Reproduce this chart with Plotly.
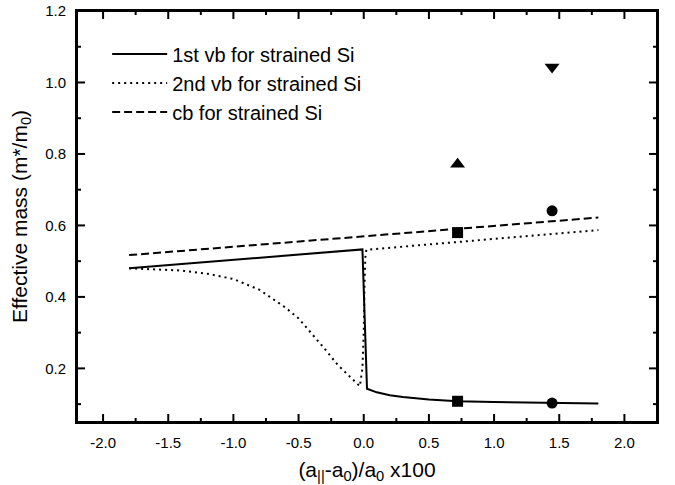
import plotly.graph_objects as go

# 1st valence band (solid)
vb1_x = [-1.8, -1.5, -1.0, -0.5, -0.01, 0.025, 0.1, 0.2, 0.3, 0.5, 0.72, 1.0, 1.45, 1.8]
vb1_y = [0.480, 0.489, 0.504, 0.518, 0.533, 0.143, 0.133, 0.125, 0.120, 0.113, 0.108, 0.106, 0.104, 0.102]

# 2nd valence band (dotted)
vb2_x = [-1.8, -1.6, -1.4, -1.2, -1.0, -0.8, -0.6, -0.5, -0.4, -0.3, -0.2, -0.1, -0.03,
         -0.01, 0.0, 0.005, 0.012, 0.02, 0.5, 1.0, 1.8]
vb2_y = [0.480, 0.478, 0.474, 0.465, 0.450, 0.420, 0.370, 0.340, 0.298, 0.255, 0.210, 0.175, 0.150,
         0.200, 0.300, 0.420, 0.510, 0.532, 0.547, 0.562, 0.587]

# conduction band (dashed)
cb_x = [-1.8, 0.0, 1.8]
cb_y = [0.517, 0.569, 0.622]

# symbols
sq_x = [0.72, 0.72]
sq_y = [0.580, 0.108]
tu_x = [0.72]
tu_y = [0.771]
td_x = [1.445]
td_y = [1.043]
ci_x = [1.445, 1.445]
ci_y = [0.641, 0.103]

# axis ranges and tick positions
x_range = [-2.2, 2.25]
y_range = [0.05, 1.2]
x_major = [-2.0, -1.5, -1.0, -0.5, 0.0, 0.5, 1.0, 1.5, 2.0]
x_minor = [-1.75, -1.25, -0.75, -0.25, 0.25, 0.75, 1.25, 1.75]
y_major = [0.2, 0.4, 0.6, 0.8, 1.0, 1.2]
y_minor = [0.1, 0.3, 0.5, 0.7, 0.9, 1.1]

FONT = "Liberation Sans, Arial, sans-serif"
W, H = 675, 485
ML, MR, MT, MB = 77, 18, 11, 63

fig = go.Figure()
fig.add_trace(go.Scatter(x=vb1_x, y=vb1_y, mode="lines", name="1st vb for strained Si",
                         line=dict(color="black", width=2, dash="solid")))
fig.add_trace(go.Scatter(x=vb2_x, y=vb2_y, mode="lines", name="2nd vb for strained Si",
                         line=dict(color="black", width=2, dash="2px,4px")))
fig.add_trace(go.Scatter(x=cb_x, y=cb_y, mode="lines", name="cb for strained Si",
                         line=dict(color="black", width=2, dash="8px,4px")))
fig.add_trace(go.Scatter(x=sq_x, y=sq_y, mode="markers", showlegend=False,
                         marker=dict(symbol="square", size=11, color="black")))
fig.add_trace(go.Scatter(x=tu_x, y=tu_y, mode="markers", showlegend=False,
                         marker=dict(symbol="triangle-up", size=13, color="black")))
fig.add_trace(go.Scatter(x=td_x, y=td_y, mode="markers", showlegend=False,
                         marker=dict(symbol="triangle-down", size=13, color="black")))
fig.add_trace(go.Scatter(x=ci_x, y=ci_y, mode="markers", showlegend=False,
                         marker=dict(symbol="circle", size=11, color="black")))

axis_common = dict(
    showgrid=False, zeroline=False, showline=True, linecolor="black", linewidth=2,
    mirror=True, ticks="", ticklabelstandoff=6,
    tickfont=dict(family=FONT, size=15, color="black"),
    automargin=False,
)

fig.update_xaxes(range=x_range, tickmode="array", tickvals=x_major,
                 ticktext=[f"{v:.1f}" for v in x_major],
                 title=dict(text="(a<sub>||</sub>-a<sub>0</sub>)/a<sub>0</sub> x100",
                            font=dict(family=FONT, size=21, color="black"), standoff=12),
                 **axis_common)
fig.update_yaxes(range=y_range, tickmode="array", tickvals=y_major,
                 ticktext=[f"{v:.1f}" for v in y_major],
                 title=dict(text="Effective mass (m*/m<sub>0</sub>)",
                            font=dict(family=FONT, size=21, color="black"), standoff=12),
                 **axis_common)

# plot frame
fig.add_shape(type="rect", xref="paper", yref="paper", x0=0, y0=0, x1=1, y1=1,
              line=dict(color="black", width=2), layer="above")

# inward tick marks as line shapes (length given in pixels, converted to axis units)
px_x = (x_range[1] - x_range[0]) / (W - ML - MR)
px_y = (y_range[1] - y_range[0]) / (H - MT - MB)
tick_line = dict(color="black", width=2)
for vals, ln in ((x_major, 8), (x_minor, 4)):
    for v in vals:
        fig.add_shape(type="line", xref="x", yref="y", x0=v, x1=v,
                      y0=y_range[0], y1=y_range[0] + ln * px_y, line=tick_line, layer="above")
        fig.add_shape(type="line", xref="x", yref="y", x0=v, x1=v,
                      y0=y_range[1], y1=y_range[1] - ln * px_y, line=tick_line, layer="above")
for vals, ln in ((y_major, 8), (y_minor, 4)):
    for v in vals:
        fig.add_shape(type="line", xref="x", yref="y", y0=v, y1=v,
                      x0=x_range[0], x1=x_range[0] + ln * px_x, line=tick_line, layer="above")
        fig.add_shape(type="line", xref="x", yref="y", y0=v, y1=v,
                      x0=x_range[1], x1=x_range[1] - ln * px_x, line=tick_line, layer="above")

fig.update_layout(
    width=W, height=H,
    margin=dict(l=ML, r=MR, t=MT, b=MB),
    plot_bgcolor="white", paper_bgcolor="white",
    font=dict(family=FONT, color="black"),
    legend=dict(x=0.052, y=0.943, xanchor="left", yanchor="top",
                bgcolor="rgba(0,0,0,0)", borderwidth=0,
                font=dict(family=FONT, size=20, color="black"),
                itemwidth=55, tracegroupgap=0),
)

fig.write_html("out.html", post_script="document.body.style.margin='0px';",
               config={"displayModeBar": False})
